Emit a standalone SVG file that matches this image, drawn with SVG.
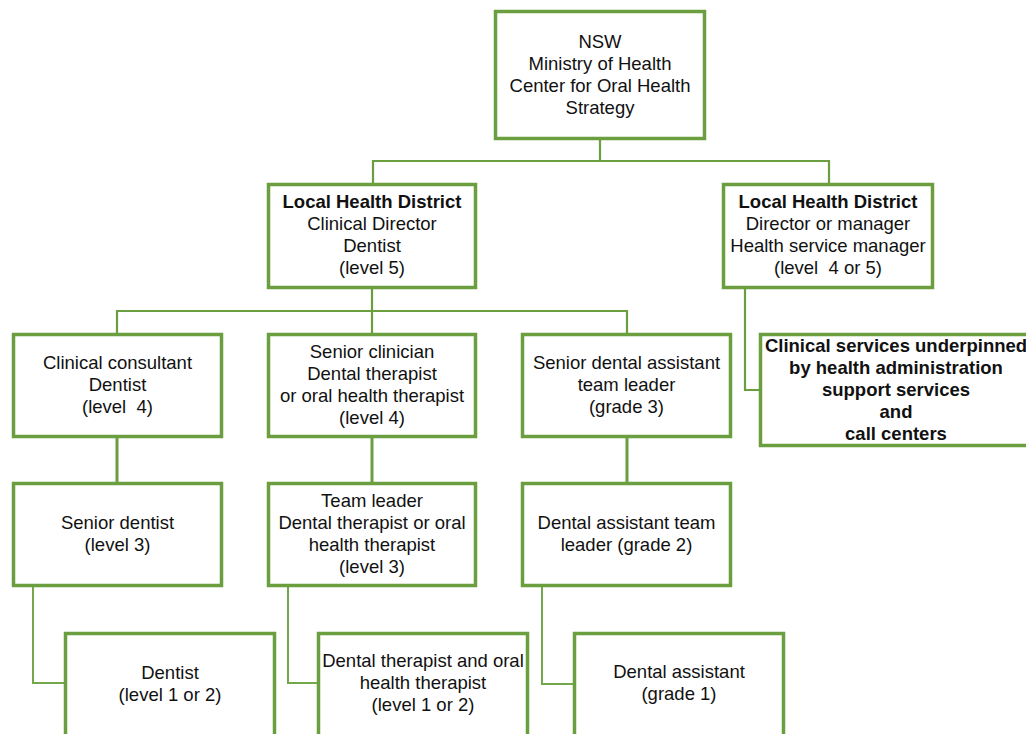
<svg xmlns="http://www.w3.org/2000/svg" width="1026" height="734" viewBox="0 0 1026 734">
<style>
.box{fill:#fff;stroke:#6a9e3f;stroke-width:3.5}
.c1{fill:none;stroke:#6a9e3f;stroke-width:2.2}
.c2{fill:none;stroke:#6a9e3f;stroke-width:3}
.c3{fill:none;stroke:#72a84a;stroke-width:2}
text{font-family:"Liberation Sans",Arial,sans-serif;font-size:18.5px;fill:#111;text-anchor:middle}
.b{font-weight:bold}
</style>
<rect width="1026" height="734" fill="#fff"/>
<g id="connectors">
<path class="c1" d="M600 140V161M373 183V161H829V183"/>
<path class="c1" d="M372 289V311M117 333V311H627V333M372 311V333"/>
<path class="c1" d="M745 289V390H759"/>
<path class="c2" d="M117 438V482M372 438V482M627 438V482"/>
<path class="c3" d="M33 587V683H64M288 587V683H317M542 587V684H573"/>
</g>
<g id="nsw">
<rect class="box" x="495.5" y="11.5" width="209" height="127"/>
<text x="600" y="48">NSW</text>
<text x="600" y="70">Ministry of Health</text>
<text x="600" y="92">Center for Oral Health</text>
<text x="600" y="114">Strategy</text>
</g>
<g id="lhd-clinical">
<rect class="box" x="268.5" y="184.5" width="207" height="103"/>
<text x="372" y="208" class="b">Local Health District</text>
<text x="372" y="230">Clinical Director</text>
<text x="372" y="252">Dentist</text>
<text x="372" y="274">(level 5)</text>
</g>
<g id="lhd-manager">
<rect class="box" x="723.5" y="184.5" width="209" height="103"/>
<text x="828" y="208" class="b">Local Health District</text>
<text x="828" y="230">Director or manager</text>
<text x="828" y="252">Health service manager</text>
<text x="828" y="274" xml:space="preserve">(level  4 or 5)</text>
</g>
<g id="clinical-services">
<rect class="box" x="760.5" y="334.5" width="276" height="111"/>
<text x="896" y="352" class="b">Clinical services underpinned</text>
<text x="896" y="374" class="b">by health administration</text>
<text x="896" y="396" class="b">support services</text>
<text x="896" y="418" class="b">and</text>
<text x="896" y="440" class="b">call centers</text>
</g>
<g id="clinical-consultant">
<rect class="box" x="13.5" y="334.5" width="208" height="102"/>
<text x="117.5" y="369">Clinical consultant</text>
<text x="117.5" y="391">Dentist</text>
<text x="117.5" y="413" xml:space="preserve">(level  4)</text>
</g>
<g id="senior-clinician">
<rect class="box" x="268.5" y="334.5" width="207" height="102"/>
<text x="372" y="358">Senior clinician</text>
<text x="372" y="380">Dental therapist</text>
<text x="372" y="402">or oral health therapist</text>
<text x="372" y="424">(level 4)</text>
</g>
<g id="senior-dental-assistant">
<rect class="box" x="522.5" y="334.5" width="208" height="102"/>
<text x="626.5" y="369">Senior dental assistant</text>
<text x="626.5" y="391">team leader</text>
<text x="626.5" y="413">(grade 3)</text>
</g>
<g id="senior-dentist">
<rect class="box" x="13.5" y="483.5" width="208" height="102"/>
<text x="117.5" y="529">Senior dentist</text>
<text x="117.5" y="551">(level 3)</text>
</g>
<g id="team-leader">
<rect class="box" x="268.5" y="483.5" width="207" height="102"/>
<text x="372" y="507">Team leader</text>
<text x="372" y="529">Dental therapist or oral</text>
<text x="372" y="551">health therapist</text>
<text x="372" y="573">(level 3)</text>
</g>
<g id="da-team-leader">
<rect class="box" x="522.5" y="483.5" width="208" height="102"/>
<text x="626.5" y="529">Dental assistant team</text>
<text x="626.5" y="551">leader (grade 2)</text>
</g>
<g id="dentist">
<rect class="box" x="65.5" y="633.5" width="209" height="120"/>
<text x="170" y="679">Dentist</text>
<text x="170" y="701">(level 1 or 2)</text>
</g>
<g id="dental-therapist">
<rect class="box" x="318.5" y="633.5" width="209" height="120"/>
<text x="423" y="667">Dental therapist and oral</text>
<text x="423" y="689">health therapist</text>
<text x="423" y="711">(level 1 or 2)</text>
</g>
<g id="dental-assistant">
<rect class="box" x="574.5" y="633.5" width="209" height="120"/>
<text x="679" y="678">Dental assistant</text>
<text x="679" y="700">(grade 1)</text>
</g>
</svg>
